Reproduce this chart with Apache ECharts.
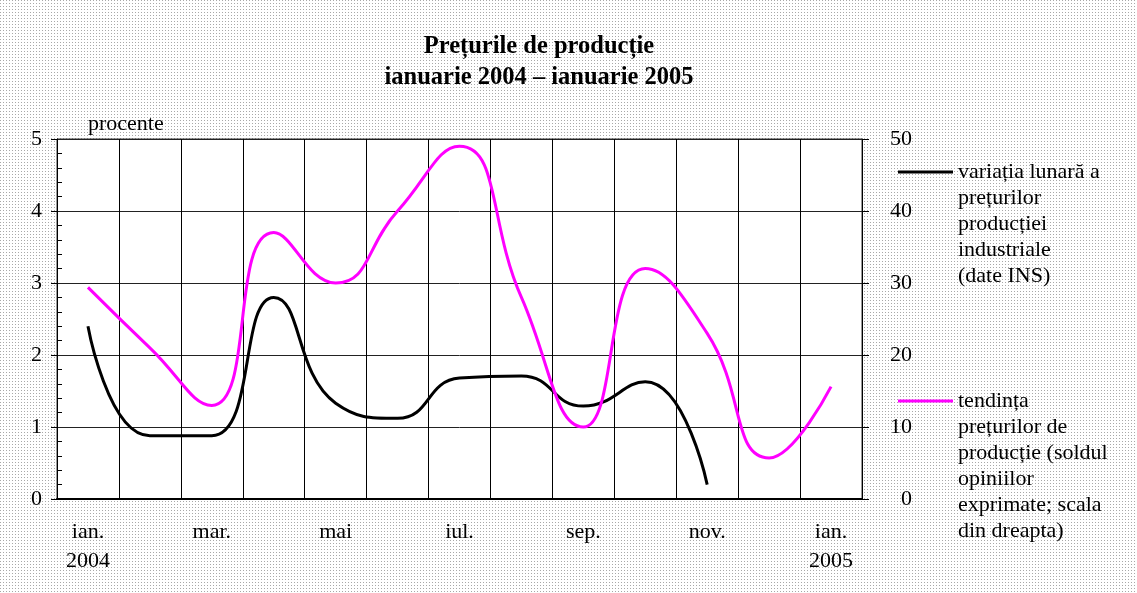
<!DOCTYPE html>
<html>
<head>
<meta charset="utf-8">
<script src="https://cdn.jsdelivr.net/npm/echarts@6/dist/echarts.min.js"></script>
<style>
  html, body { margin: 0; padding: 0; }
  #chart { width: 1137px; height: 593px; }
</style>
</head>
<body>
<div id="chart"></div>
<script>
// months, ian. 2004 - ian. 2005
const months = ['ian.\n2004', 'feb.', 'mar.', 'apr.', 'mai', 'iun.', 'iul.', 'aug.', 'sep.', 'oct.', 'nov.', 'dec.', 'ian.\n2005'];
// variatia lunara (procente, scala stanga)
const monthlyChange = [2.4, 0.88, 0.88, 2.8, 1.33, 1.12, 1.68, 1.71, 1.29, 1.63, 0.2, null, null];
// tendinta preturilor (sold, scala dreapta)
const priceTrend = [29.4, 21, 13, 37, 30, 40, 49, 28, 10, 32, 23, 5.7, 15.6];
const leftTicks = [0, 1, 2, 3, 4, 5];
const rightTicks = [0, 10, 20, 30, 40, 50];

const nameBlack = 'variația lunară a prețurilor producției industriale (date INS)';
const nameMagenta = 'tendința prețurilor de producție (soldul opiniilor exprimate; scala din dreapta)';
const legendLines = {};
legendLines[nameBlack] = ['variația lunară a', 'prețurilor', 'producției', 'industriale', '(date INS)'];
legendLines[nameMagenta] = ['tendința', 'prețurilor de', 'producție (soldul', 'opiniilor', 'exprimate; scala', 'din dreapta)'];

const FONT = "'Liberation Serif', 'Times New Roman', serif";

// keep the icon on the first text line: pad with empty lines above
const legendText = (name) => {
  const lines = legendLines[name];
  return new Array(lines.length - 1).fill('').concat(lines).join('\n');
};

// dotted grey background
const dots = document.createElement('canvas');
dots.width = 3;
dots.height = 3;
const dctx = dots.getContext('2d');
dctx.fillStyle = '#ffffff';
dctx.fillRect(0, 0, 3, 3);
dctx.fillStyle = '#a8a8a8';
dctx.fillRect(0, 0, 1, 1);

const chart = echarts.init(document.getElementById('chart'));

const legendBase = {
  orient: 'vertical',
  left: 898,
  padding: 0,
  itemWidth: 55,
  itemHeight: 3,
  itemGap: 5,
  icon: 'rect',
  selectedMode: false,
  formatter: legendText,
  textStyle: { fontFamily: FONT, fontSize: 22, color: '#000', lineHeight: 26 }
};

chart.setOption({
  animation: false,
  backgroundColor: { image: dots, repeat: 'repeat' },
  title: {
    text: 'Prețurile de producție\nianuarie 2004 – ianuarie 2005',
    left: 534,
    top: 26,
    textAlign: 'center',
    textStyle: { fontFamily: FONT, fontSize: 24.5, fontWeight: 'bold', color: '#000', lineHeight: 31 }
  },
  legend: [
    Object.assign({}, legendBase, { data: [nameBlack], top: 171 - 5 * 26 + 14 }),
    Object.assign({}, legendBase, { data: [nameMagenta], top: 400 - 6 * 26 + 14 })
  ],
  grid: {
    left: 57,
    right: 275,
    top: 139,
    bottom: 94,
    show: true,
    backgroundColor: '#ffffff',
    borderColor: '#333',
    borderWidth: 1
  },
  xAxis: {
    type: 'category',
    data: months,
    boundaryGap: true,
    axisLine: { lineStyle: { color: '#000', width: 2 } },
    axisTick: { show: false, interval: 0 },
    splitLine: { show: true, interval: 0, lineStyle: { color: '#000', width: 1 } },
    axisLabel: {
      interval: 1,
      margin: 19,
      fontFamily: FONT,
      fontSize: 22,
      color: '#000',
      lineHeight: 29
    }
  },
  yAxis: [
    {
      type: 'value',
      position: 'left',
      min: leftTicks[0],
      max: leftTicks[leftTicks.length - 1],
      interval: leftTicks[1] - leftTicks[0],
      name: 'procente',
      nameLocation: 'end',
      nameGap: 4,
      nameTextStyle: { fontFamily: FONT, fontSize: 22, color: '#000', align: 'left', padding: [0, 0, 0, 31] },
      axisLine: { show: true, lineStyle: { color: '#000', width: 1 } },
      axisTick: { show: true, length: 6, lineStyle: { color: '#000' } },
      splitLine: { show: true, lineStyle: { color: '#222', width: 1 } },
      axisLabel: { margin: 15, fontFamily: FONT, fontSize: 22, color: '#000' }
    },
    {
      type: 'value',
      position: 'right',
      min: rightTicks[0],
      max: rightTicks[rightTicks.length - 1],
      interval: rightTicks[1] - rightTicks[0],
      axisLine: { show: true, lineStyle: { color: '#000', width: 1 } },
      axisTick: { show: true, length: 7, lineStyle: { color: '#000' } },
      splitLine: { show: false },
      axisLabel: { align: 'right', margin: 50, fontFamily: FONT, fontSize: 22, color: '#000' }
    },
    {
      // minor ticks inside the left axis
      type: 'value',
      position: 'left',
      min: leftTicks[0],
      max: leftTicks[leftTicks.length - 1],
      interval: leftTicks[1] - leftTicks[0],
      axisLine: { show: false },
      axisLabel: { show: false },
      splitLine: { show: false },
      axisTick: { show: false, inside: true },
      minorTick: { show: true, splitNumber: 5, length: 5, lineStyle: { color: '#000', width: 1 } }
    }
  ],
  series: [
    {
      name: nameBlack,
      type: 'line',
      yAxisIndex: 0,
      data: monthlyChange,
      smooth: 0.5,
      symbol: 'none',
      color: '#000000',
      lineStyle: { color: '#000000', width: 3 }
    },
    {
      name: nameMagenta,
      type: 'line',
      yAxisIndex: 1,
      data: priceTrend,
      smooth: 0.5,
      symbol: 'none',
      color: '#ff00ff',
      lineStyle: { color: '#ff00ff', width: 3 }
    }
  ]
});
</script>
</body>
</html>
